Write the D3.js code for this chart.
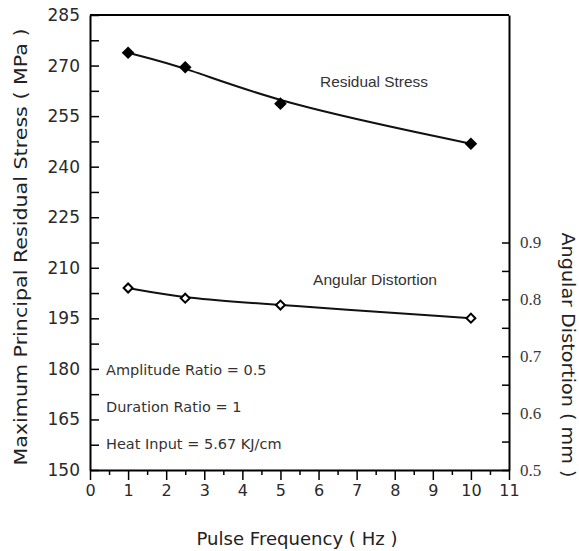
<!DOCTYPE html>
<html>
<head>
<meta charset="utf-8">
<script src="https://cdn.jsdelivr.net/npm/d3@7"></script>
<style>
  body { margin: 0; background: #fff; }
  svg { display: block; }
</style>
</head>
<body>
<svg id="chart" width="579" height="551"></svg>
<script>
// data
var frequency = [1, 2.5, 5, 10];
var residualStress = [273.8, 269.5, 258.7, 246.8];
var angularDistortion = [0.820, 0.802, 0.790, 0.767];

var stressTicks = [150, 165, 180, 195, 210, 225, 240, 255, 270, 285];
var stressMinor = [157.5, 172.5, 187.5, 202.5, 217.5, 232.5, 247.5, 262.5, 277.5];
var distortionTicks = [0.5, 0.6, 0.7, 0.8, 0.9];
var distortionMinor = [0.55, 0.65, 0.75, 0.85];
var freqTicks = [0, 1, 2, 3, 4, 5, 6, 7, 8, 9, 10, 11];
var freqMinor = [0.5, 1.5, 2.5, 3.5, 4.5, 5.5, 6.5, 7.5, 8.5, 9.5, 10.5];

var notes = ["Amplitude Ratio = 0.5", "Duration Ratio = 1", "Heat Input = 5.67 KJ/cm"];

var svg = d3.select("svg#chart");

var margin = {top: 15, right: 70, bottom: 81, left: 90};
var plotWidth = 579 - margin.left - margin.right;   // 419
var plotHeight = 551 - margin.top - margin.bottom;  // 455

var xScale = d3.scaleLinear().domain([0, 11]).range([0, plotWidth]);
var yLeft = d3.scaleLinear().domain([150, 285]).range([plotHeight, 0]);
var yRight = d3.scaleLinear().domain([0.5, 1.3]).range([plotHeight, 0]);

var plot = svg.append("g")
    .attr("transform", "translate(" + margin.left + "," + margin.top + ")");

var sans = "'DejaVu Sans', Verdana, sans-serif";
var arial = "'Liberation Sans', Arial, sans-serif";

// minor ticks first (no labels)
plot.append("g")
    .call(d3.axisLeft(yLeft).tickValues(stressMinor).tickSize(-9).tickFormat(""))
    .call(g => g.select(".domain").remove());
plot.append("g")
    .attr("transform", "translate(" + plotWidth + ",0)")
    .call(d3.axisRight(yRight).tickValues(distortionMinor).tickSize(-7).tickFormat(""))
    .call(g => g.select(".domain").remove());
plot.append("g")
    .attr("transform", "translate(0," + plotHeight + ")")
    .call(d3.axisBottom(xScale).tickValues(freqMinor).tickSize(5).tickFormat(""))
    .call(g => g.select(".domain").remove());

// left axis
var leftAxis = plot.append("g")
    .call(d3.axisLeft(yLeft).tickValues(stressTicks).tickSize(-9).tickPadding(10).tickSizeOuter(0));
leftAxis.selectAll("text")
    .style("font-family", sans).style("font-size", "17px").attr("fill", "#2a2a2a");

// right axis
var rightAxis = plot.append("g")
    .attr("transform", "translate(" + plotWidth + ",0)")
    .call(d3.axisRight(yRight).tickValues(distortionTicks).tickSize(-7).tickPadding(11)
        .tickSizeOuter(0).tickFormat(d3.format(".1f")));
rightAxis.selectAll("text")
    .style("font-family", "'Liberation Serif', 'Times New Roman', serif")
    .style("font-size", "17px").attr("fill", "#3a3a3a");

// bottom axis
var bottomAxis = plot.append("g")
    .attr("transform", "translate(0," + plotHeight + ")")
    .call(d3.axisBottom(xScale).tickValues(freqTicks).tickSize(10).tickPadding(5).tickSizeOuter(0));
bottomAxis.selectAll("text")
    .style("font-family", sans).style("font-size", "16px").attr("fill", "#2a2a2a");

[leftAxis, rightAxis, bottomAxis].forEach(function (g) {
    g.select(".domain").attr("stroke-width", 2);
});
plot.selectAll(".tick line").attr("stroke-width", 1.5);

// top border
plot.append("line")
    .attr("x1", 0).attr("x2", plotWidth).attr("y1", 0).attr("y2", 0)
    .attr("stroke", "#000").attr("stroke-width", 2);

// smooth trend lines
var stressLine = d3.line()
    .x((d, i) => xScale(frequency[i]))
    .y(d => yLeft(d))
    .curve(d3.curveBasis);
var distortionLine = d3.line()
    .x((d, i) => xScale(frequency[i]))
    .y(d => yRight(d))
    .curve(d3.curveBasis);

plot.append("path")
    .attr("d", stressLine(residualStress))
    .attr("fill", "none").attr("stroke", "#111").attr("stroke-width", 2);
plot.append("path")
    .attr("d", distortionLine(angularDistortion))
    .attr("fill", "none").attr("stroke", "#111").attr("stroke-width", 2);

// markers: diamonds
var filledDiamond = d3.symbol().type(d3.symbolSquare).size(80);
var openDiamond = d3.symbol().type(d3.symbolSquare).size(40);

plot.selectAll("path.stress")
    .data(residualStress)
    .enter().append("path")
    .attr("class", "stress")
    .attr("d", filledDiamond)
    .attr("transform", (d, i) => "translate(" + xScale(frequency[i]) + "," + yLeft(d) + ") rotate(45)")
    .attr("fill", "#000");

plot.selectAll("path.distortion")
    .data(angularDistortion)
    .enter().append("path")
    .attr("class", "distortion")
    .attr("d", openDiamond)
    .attr("transform", (d, i) => "translate(" + xScale(frequency[i]) + "," + yRight(d) + ") rotate(45)")
    .attr("fill", "#fff").attr("stroke", "#000").attr("stroke-width", 2);

// series labels
plot.append("text")
    .attr("x", 230).attr("y", 72)
    .attr("textLength", 108).attr("lengthAdjust", "spacingAndGlyphs")
    .style("font-family", arial)
    .style("font-size", "15px").attr("fill", "#333")
    .text("Residual Stress");
plot.append("text")
    .attr("x", 223).attr("y", 270)
    .attr("textLength", 124).attr("lengthAdjust", "spacingAndGlyphs")
    .style("font-family", arial)
    .style("font-size", "15px").attr("fill", "#333")
    .text("Angular Distortion");

// condition notes
plot.selectAll("text.note")
    .data(notes)
    .enter().append("text")
    .attr("class", "note")
    .attr("x", 16)
    .attr("y", (d, i) => 360 + i * 37)
    .style("font-family", sans).style("font-size", "14.5px").attr("fill", "#333")
    .text(d => d);

// axis titles
svg.append("text")
    .attr("transform", "translate(27,247) rotate(-90)")
    .attr("textLength", 437).attr("lengthAdjust", "spacingAndGlyphs")
    .style("text-anchor", "middle")
    .style("font-family", sans).style("font-size", "17px").attr("fill", "#222")
    .text("Maximum Principal Residual Stress ( MPa )");

svg.append("text")
    .attr("transform", "translate(562,355) rotate(90)")
    .attr("textLength", 245).attr("lengthAdjust", "spacingAndGlyphs")
    .style("text-anchor", "middle")
    .style("font-family", sans).style("font-size", "17px").attr("fill", "#222")
    .text("Angular Distortion ( mm )");

svg.append("text")
    .attr("x", 297)
    .attr("y", 545)
    .attr("textLength", 201).attr("lengthAdjust", "spacingAndGlyphs")
    .style("text-anchor", "middle")
    .style("font-family", sans).style("font-size", "17px").attr("fill", "#222")
    .text("Pulse Frequency ( Hz )");
</script>
</body>
</html>
